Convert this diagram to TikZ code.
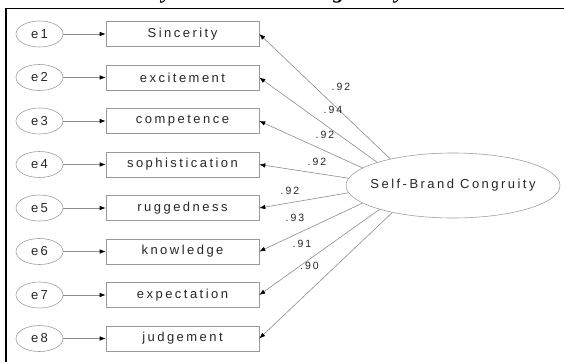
\documentclass[tikz,border=0pt]{standalone}
\usepackage{fontspec}
\setmainfont{Liberation Sans}
\newfontfamily\spaced[LetterSpace=19]{Liberation Sans}
\newfontfamily\ttlfont{Liberation Serif}
\usetikzlibrary{shapes.geometric,arrows.meta}
\tikzset{
  errnode/.style={ellipse, draw=gray!75, line width=0.6pt, minimum width=47pt, minimum height=26pt, inner sep=0pt,
    font=\spaced\fontsize{13}{13}\selectfont, text=black!85},
  obsnode/.style={rectangle, draw=gray!80, line width=0.6pt, minimum width=153pt, minimum height=25pt, inner sep=0pt,
    font=\spaced\fontsize{13}{13}\selectfont, text=black!85},
  latnode/.style={ellipse, draw=gray!75, line width=0.6pt, minimum width=214pt, minimum height=65pt,
    inner xsep=-10pt, inner ysep=0pt,
    font=\spaced\fontsize{13}{13}\selectfont, text=black!85},
  conn/.style={draw=gray!90, line width=0.6pt, -{Latex[length=6pt,width=4.5pt,color=black]}},
  lbl/.style={font=\spaced\fontsize{10.5}{10.5}\selectfont, text=black!85, inner sep=0pt},
  ttl/.style={font=\ttlfont\bfseries\itshape\fontsize{22}{22}\selectfont, anchor=base, inner sep=0pt},
  frame/.style={draw=black, line width=1.8pt}
}
\begin{document}
\begin{tikzpicture}[x=1pt,y=-1pt]
\useasboundingbox (0,0) rectangle (564,362);
\begin{scope}
\clip (0,0) rectangle (564,362);
\node[ttl] (t1) at (167,-1.2) {y};
\node[ttl] (t2) at (339,-1.2) {g};
\node[ttl] (t3) at (400,-1.2) {y};
\end{scope}
\coordinate (fa) at (5.6,362);
\coordinate (fb) at (5.6,8.4);
\coordinate (fc) at (564,8.4);
\draw[frame] (fa) -- (fb) -- (fc);

\foreach \i/\t in {1/Sincerity,2/excitement,3/competence,4/sophistication,5/ruggedness,6/knowledge,7/expectation,8/judgement}{
  \node[errnode] (e\i) at (39.5,{34+43.5*(\i-1)}) {e\i};
  \node[obsnode] (b\i) at (182.5,{34+43.5*(\i-1)}) {\t};
  \draw[conn] (e\i) -- (b\i);
}
\node[latnode] (sbc) at (453,185.5) {Self-Brand Congruity};

\draw[conn] (sbc.157.3) -- (b1.east);
\draw[conn] (sbc.163.3) -- (b2.east);
\draw[conn] (sbc.169) -- (b3.east);
\draw[conn] (sbc.176.5) -- (b4.east);
\draw[conn] (sbc.184.6) -- (b5.east);
\draw[conn] (sbc.191.6) -- (b6.east);
\draw[conn] (sbc.198.8) -- (b7.east);
\draw[conn] (sbc.204.3) -- (b8.east);

\node[lbl] (l1) at (341,87) {.92};
\node[lbl] (l2) at (333,110) {.94};
\node[lbl] (l3) at (325,135) {.92};
\node[lbl] (l4) at (317,161.5) {.92};
\node[lbl] (l5) at (290,190.5) {.92};
\node[lbl] (l6) at (295,217.5) {.93};
\node[lbl] (l7) at (302,244) {.91};
\node[lbl] (l8) at (309.5,266) {.90};
\end{tikzpicture}
\end{document}
